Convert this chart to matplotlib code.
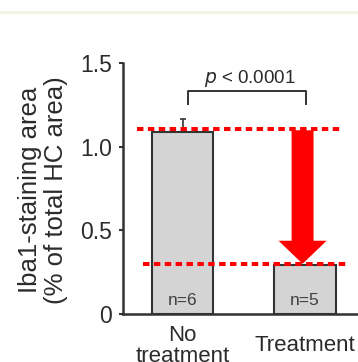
import matplotlib.pyplot as plt
from matplotlib.lines import Line2D

plt.rcParams['font.family'] = ['Liberation Sans', 'DejaVu Sans']

groups = ["No\ntreatment", "Treatment"]
values = [1.09, 0.295]
err_up = [0.075, 0.0]
n_labels = ["n=6", "n=5"]
y_ticks = [0, 0.5, 1.0, 1.5]
y_ticklabels = ["0", "0.5", "1.0", "1.5"]
ref_levels = [1.108, 0.30]
p_text = "$p$ < 0.0001"

txt = '#2b2b2b'
fig = plt.figure(figsize=(3.58, 3.62), dpi=100)
fig.patch.set_facecolor('white')
fig.add_artist(Line2D([0, 1], [1 - 12 / 362, 1 - 12 / 362], color='#f3f3e4', lw=2.5,
                      transform=fig.transFigure))

ax = fig.add_axes([0.3436, 0.1326, 0.7137, 0.6934])
x = list(range(len(values)))
ax.bar(x, values, width=0.5, color='#d4d4d4', edgecolor='#333333', linewidth=1.5, zorder=2)
ax.errorbar(x, values, yerr=[[0, 0], err_up], fmt='none', ecolor='#333333',
            elinewidth=1.2, capsize=2.5, capthick=1.2, zorder=1)

for xi, lab in zip(x, n_labels):
    ax.text(xi, 0.078, lab, ha='center', va='center', fontsize=12.5, color='#404040')

ax.set_xlim(-0.486, 1.6)
ax.set_ylim(0, 1.5)
ax.set_yticks(y_ticks)
ax.set_yticklabels(y_ticklabels, fontsize=16.5, color=txt)
ax.set_xticks([])
ax.tick_params(axis='y', length=3, width=1.5, color='#333333', pad=5)
for s in ['top', 'right']:
    ax.spines[s].set_visible(False)
for s in ['left', 'bottom']:
    ax.spines[s].set_linewidth(1.8)
    ax.spines[s].set_color('#333333')

for xi, lab in zip(x, groups):
    ax.annotate(lab, xy=(xi, 0), xycoords=('data', 'axes fraction'), xytext=(0, -23),
                textcoords='offset points', ha='center', va='center', fontsize=16,
                color=txt, linespacing=0.95, annotation_clip=False)

# reference dotted lines
ax.plot([-0.37, 1.30], [ref_levels[0]] * 2, color='#ff0000', lw=2.9,
        dashes=(1.6, 1.1), dash_capstyle='butt', zorder=3, clip_on=False)
ax.plot([-0.32, 1.35], [ref_levels[1]] * 2, color='#ff0000', lw=2.9,
        dashes=(1.6, 1.1), dash_capstyle='butt', zorder=3, clip_on=False)

# arrow
ax.annotate('', xy=(x[1] - 0.02, values[1] + 0.005), xytext=(x[1] - 0.02, ref_levels[0] - 0.01),
            arrowprops=dict(arrowstyle='simple,head_length=1.66,head_width=3.46,tail_width=1.58',
                            mutation_scale=10, color='#ff0000', lw=0, shrinkA=0, shrinkB=0),
            zorder=4)

# significance bracket
ax.plot([0.045, 0.045, 1.008, 1.008], [1.253, 1.331, 1.331, 1.253], color='#333333',
        lw=1.4, clip_on=False)
ax.text(0.55, 1.41, p_text, ha='center', va='center', fontsize=13.5, color=txt)

fig.text(43 / 358, 1 - 190 / 362, "Iba1-staining area\n(% of total HC area)", rotation=90,
         ha='center', va='center', fontsize=18.5, color=txt, linespacing=1.1)

fig.savefig('out.png', dpi=100)
